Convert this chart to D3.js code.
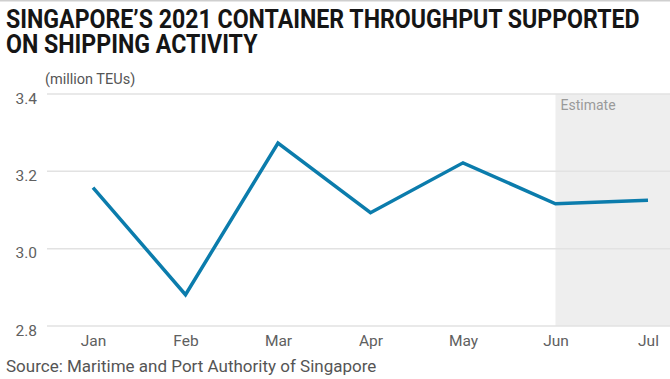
<!DOCTYPE html>
<html><head><meta charset="utf-8">
<script src="https://cdn.jsdelivr.net/npm/d3@7"></script>
<style>
html,body{margin:0;padding:0;background:#fff;}
svg{display:block;}
</style></head>
<body>
<svg id="c" width="670" height="379"></svg>
<script>
const months = ["Jan","Feb","Mar","Apr","May","Jun","Jul"];
const throughput = [3.158, 2.881, 3.273, 3.093, 3.222, 3.116, 3.125];
const yTicks = [2.8, 3.0, 3.2, 3.4];
const estimateStart = "Jun";
const titleLines = ["SINGAPORE\u2019S 2021 CONTAINER THROUGHPUT SUPPORTED", "ON SHIPPING ACTIVITY"];
const unitLabel = "(million TEUs)";
const sourceText = "Source: Maritime and Port Authority of Singapore";

const svg = d3.select("#c");
const W = 670, H = 379;
const FONT = "Roboto, sans-serif";
svg.append("line").attr("x1",0).attr("x2",W).attr("y1",0.75).attr("y2",0.75).attr("stroke","#cfcfcf").attr("stroke-width",1.5);

const x = d3.scalePoint().domain(months).range([93, 648]);
const y = d3.scaleLinear().domain([2.8, 3.4]).range([326, 94]);
const gridLeft = 47, gridRight = 670;

// estimate band
svg.append("rect")
  .attr("x", x(estimateStart)).attr("y", y(3.4))
  .attr("width", gridRight - x(estimateStart)).attr("height", y(2.8) - y(3.4))
  .attr("fill", "#eeeeee");

// gridlines
svg.append("g").selectAll("line").data(yTicks).join("line")
  .attr("x1", gridLeft).attr("x2", gridRight)
  .attr("y1", d => y(d)).attr("y2", d => y(d))
  .attr("stroke", "#e2e2e2").attr("stroke-width", 1.5);

// y axis labels
const yAxis = d3.axisLeft(y).tickValues(yTicks).tickFormat(d3.format(".1f")).tickSize(0).tickPadding(0);
const gy = svg.append("g").attr("transform", "translate(37,0)").call(yAxis);
gy.select(".domain").remove();
gy.selectAll("text").attr("font-family",FONT).attr("font-size",15.5).attr("fill","#606060").attr("dy","0.58em");

// x axis labels
const xAxis = d3.axisBottom(x).tickSize(0).tickPadding(0);
const gx = svg.append("g").attr("transform", "translate(0,335)").call(xAxis);
gx.select(".domain").remove();
gx.selectAll("text").attr("font-family",FONT).attr("font-size",15.5).attr("fill","#606060");

svg.append("text").attr("x", x(estimateStart)+5).attr("y", 110)
  .attr("font-family",FONT).attr("font-size",14).attr("fill","#9a9a9a").text("Estimate");

// line
const line = d3.line().x((d,i) => x(months[i])).y(d => y(d));
svg.append("path").datum(throughput).attr("d", line)
  .attr("fill","none").attr("stroke","#0b7cac").attr("stroke-width",3.5)
  .attr("stroke-linejoin","miter");

// title (one text element, two lines)
const tg = svg.append("g");
const title = tg.append("text")
  .attr("font-family",FONT)
  .attr("font-weight","bold").attr("font-size",25).attr("fill","#151515");
title.selectAll("tspan").data(titleLines).join("tspan")
  .attr("x", 0).attr("y", (d,i) => 28.5 + i*25)
  .text(d => d);
const natural = title.select("tspan").node().getComputedTextLength();
const k = 634 / natural;
tg.attr("transform", `translate(6,0) scale(${k},1)`);

svg.append("text").attr("x", 45).attr("y", 84)
  .attr("font-family",FONT).attr("font-size",14.5).attr("fill","#555").text(unitLabel);

svg.append("text").attr("x", 6).attr("y", 371.5)
  .attr("font-family",FONT).attr("font-size",17).attr("fill","#555").text(sourceText);
</script>
</body></html>
